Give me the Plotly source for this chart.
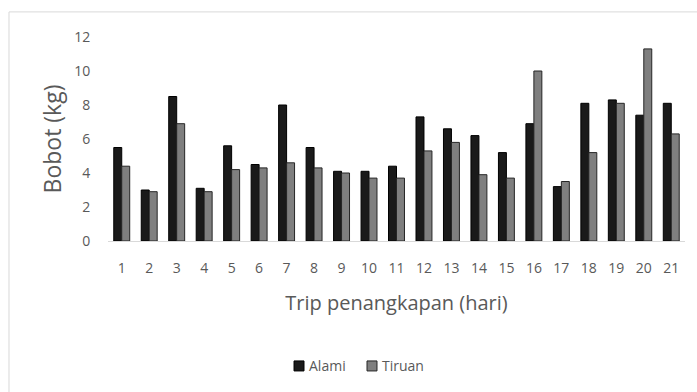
import plotly.graph_objects as go

# Trip numbers (days) and catch weight per trip, kg
trips = [str(i) for i in range(1, 22)]
alami = [5.5, 3.0, 8.5, 3.1, 5.6, 4.5, 8.0, 5.5, 4.1, 4.1, 4.4, 7.3, 6.6, 6.2, 5.2, 6.9, 3.2, 8.1, 8.3, 7.4, 8.1]
tiruan = [4.4, 2.9, 6.9, 2.9, 4.2, 4.3, 4.6, 4.3, 4.0, 3.7, 3.7, 5.3, 5.8, 3.9, 3.7, 10.0, 3.5, 5.2, 8.1, 11.3, 6.3]
y_ticks = [0, 2, 4, 6, 8, 10, 12]
series_names = ["Alami", "Tiruan"]
fill_colors = ["#1a1a1a", "#7f7f7f"]
edge_colors = ["#000000", "#262626"]

text_color = "#595959"
font_family = "Open Sans, DejaVu Sans, sans-serif"

fig = go.Figure()
for name, values, fill, edge in zip(series_names, [alami, tiruan], fill_colors, edge_colors):
    fig.add_trace(go.Bar(
        x=trips, y=values, name=name, showlegend=False,
        marker=dict(color=fill, line=dict(color=edge, width=1)),
    ))

# Compact legend below the axis title: small swatch followed closely by its label
legend_shapes = []
legend_notes = []
swatch_left = [0.3224, 0.4489]
for name, fill, edge, x0 in zip(series_names, fill_colors, edge_colors, swatch_left):
    legend_shapes.append(dict(
        type="rect", xref="paper", yref="paper",
        x0=x0, x1=x0 + 0.0173, y0=-0.637, y1=-0.588,
        fillcolor=fill, line=dict(color=edge, width=1),
    ))
    legend_notes.append(dict(
        xref="paper", yref="paper", x=x0 + 0.0225, y=-0.6127,
        xanchor="left", yanchor="middle", showarrow=False,
        text=name, font=dict(size=14, color=text_color, family=font_family),
    ))

# Light outer frame around the whole chart
frame = dict(
    type="rect", xref="paper", yref="paper",
    x0=-0.1716, x1=1.2, y0=-0.9, y1=1.123,
    line=dict(color="#d9d9d9", width=1), fillcolor="rgba(0,0,0,0)", layer="below",
)

fig.update_layout(
    width=697, height=392,
    margin=dict(l=108, r=12, t=37, b=151),
    paper_bgcolor="white", plot_bgcolor="white",
    barmode="group", bargap=0.42, bargroupgap=0.0,
    font=dict(family=font_family, color=text_color, size=14),
    showlegend=False,
    xaxis=dict(
        type="category", showgrid=False, showline=True, linecolor="#d9d9d9", linewidth=1,
        ticks="outside", ticklen=14, tickcolor="rgba(0,0,0,0)",
        tickfont=dict(size=14, color=text_color),
        title=dict(text="Trip penangkapan (hari)", font=dict(size=20, color=text_color), standoff=20),
    ),
    yaxis=dict(
        range=[0, 12], tickvals=y_ticks, showgrid=False, zeroline=False, showline=False,
        ticks="outside", ticklen=14, tickcolor="rgba(0,0,0,0)",
        tickfont=dict(size=14, color=text_color),
        title=dict(text="Bobot (kg)", font=dict(size=23, color=text_color), standoff=6),
    ),
    shapes=[frame] + legend_shapes,
    annotations=legend_notes,
)

fig.write_html("out.html")
